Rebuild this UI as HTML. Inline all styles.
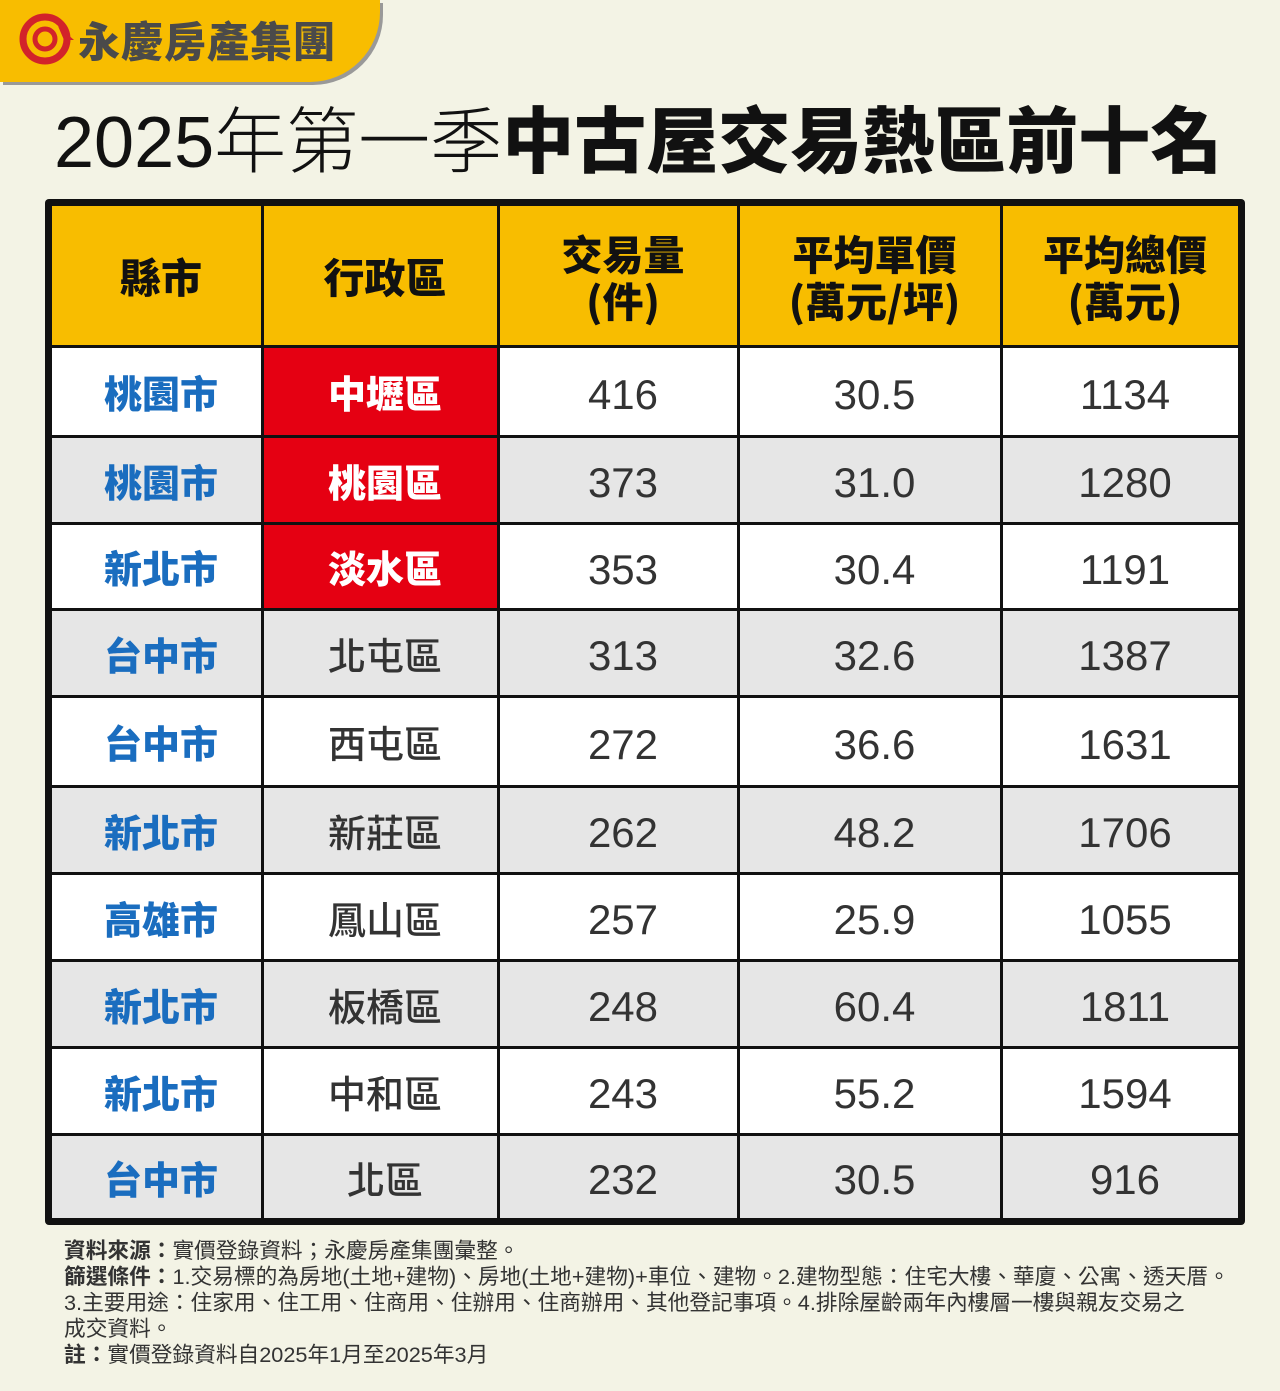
<!DOCTYPE html>
<html><head><meta charset="utf-8"><style>
body{margin:0;width:1280px;height:1391px;background:#f3f3e5;position:relative;overflow:hidden;font-family:"Liberation Sans","Noto Sans CJK TC",sans-serif;}
.tab{position:absolute;left:45px;top:199px;width:1200px;height:1026px;background:#111;border-radius:4px;}
.c{position:absolute;display:flex;align-items:center;justify-content:center;text-align:center;box-sizing:border-box;padding-left:9px;}
.h{background:#f8bd00;color:#111;font-weight:900;font-size:41px;line-height:47px;font-family:"Noto Sans CJK TC",sans-serif;}
.city{color:#1a6dbf;font-weight:900;font-size:38px;font-family:"Noto Sans CJK TC",sans-serif;}
.dist{color:#333;font-size:38px;font-family:"Noto Sans CJK TC",sans-serif;font-weight:500;}
.red{background:#e50012;color:#fff;font-weight:900;}
.num{color:#333;font-size:42px;font-family:"Liberation Sans",sans-serif;padding-top:6px;}
</style></head><body>
<div style="position:absolute;left:0;top:0;width:380px;height:82px;background:#f8bd00;border-bottom-right-radius:70px;box-shadow:3px 3px 0 #999;"></div>
<svg style="position:absolute;left:18px;top:12px" width="58" height="54" viewBox="0 0 58 54"><circle cx="27" cy="27" r="22" fill="none" stroke="#d2232a" stroke-width="7"/><circle cx="27" cy="27" r="10" fill="none" stroke="#d2232a" stroke-width="5"/><path d="M40 14 L56 28 L46 28 Z" fill="#d2232a"/></svg>
<div style="position:absolute;left:78px;top:14px;font-size:42px;font-weight:900;color:#4a4a4a;font-family:'Noto Sans CJK TC',sans-serif;line-height:52px;letter-spacing:1px">永慶房產集團</div>
<div style="position:absolute;left:54px;top:91px;font-size:72px;line-height:90px;color:#111;font-family:'Liberation Sans','Noto Sans CJK TC',sans-serif;white-space:nowrap"><span style="font-weight:300">2025年第一季</span><span style="font-weight:900;font-family:'Noto Sans CJK TC',sans-serif">中古屋交易熱區前十名</span></div>
<div class="tab">
<div class="c h" style="left:7px;top:7px;width:209px;height:139px">縣市</div>
<div class="c h" style="left:219px;top:7px;width:233px;height:139px">行政區</div>
<div class="c h" style="left:455px;top:7px;width:237px;height:139px">交易量<br>(件)</div>
<div class="c h" style="left:695px;top:7px;width:260px;height:139px">平均單價<br>(萬元/坪)</div>
<div class="c h" style="left:958px;top:7px;width:235px;height:139px">平均總價<br>(萬元)</div>
</div>
<div id="rows"></div>
<script>
const d=[["桃園市","中壢區","416","30.5","1134",1],["桃園市","桃園區","373","31.0","1280",1],["新北市","淡水區","353","30.4","1191",1],["台中市","北屯區","313","32.6","1387"],["台中市","西屯區","272","36.6","1631"],["新北市","新莊區","262","48.2","1706"],["高雄市","鳳山區","257","25.9","1055"],["新北市","板橋區","248","60.4","1811"],["新北市","中和區","243","55.2","1594"],["台中市","北區","232","30.5","916"]];
const ys=[348,438,525,611,698,788,875,962,1049,1136,1218];
const cols=[[52,209],[264,233],[500,237],[740,260],[1003,235]];
let h='';
d.forEach((r,i)=>{const y=ys[i],hh=ys[i+1]-ys[i]-3+(i==9?3:0);const bg=i%2?'#e6e6e6':'#fff';
cols.forEach((c,j)=>{let cls='c '+(j==0?'city':j==1?'dist':'num');let b=bg;if(j==1&&r[5]){cls+=' red';b='#e50012';}
h+=`<div class="${cls}" style="left:${c[0]}px;top:${y}px;width:${c[1]}px;height:${hh}px;background:${b}">${r[j]}</div>`;});});
document.getElementById('rows').innerHTML=h;
</script>
<div style="position:absolute;left:64px;top:1238px;font-size:21.7px;line-height:26px;color:#333;font-family:'Liberation Sans','Noto Sans CJK TC',sans-serif;width:1210px;white-space:nowrap">
<b>資料來源：</b>實價登錄資料；永慶房產集團彙整。<br>
<b>篩選條件：</b>1.交易標的為房地(土地+建物)、房地(土地+建物)+車位、建物。2.建物型態：住宅大樓、華廈、公寓、透天厝。<br>
3.主要用途：住家用、住工用、住商用、住辦用、住商辦用、其他登記事項。4.排除屋齡兩年內樓層一樓與親友交易之<br>
成交資料。<br>
<b>註：</b>實價登錄資料自2025年1月至2025年3月</div>
</body></html>
